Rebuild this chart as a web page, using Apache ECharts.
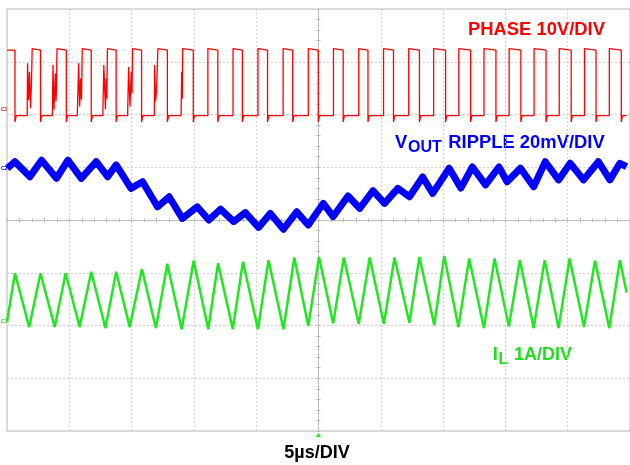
<!DOCTYPE html>
<html>
<head>
<meta charset="utf-8">
<script src="https://cdn.jsdelivr.net/npm/echarts@6/dist/echarts.min.js"></script>
<style>
  html, body { margin: 0; padding: 0; background: #fff; }
  #main { width: 630px; height: 465px; }
</style>
</head>
<body>
<div id="main"></div>
<script>
// scope screen: 10 div x 5us horizontally (t=0 at center), 8 div vertically (0 at center)
var chart = echarts.init(document.getElementById('main'));

// PHASE channel, 10V/div, ground at +2 div
var phaseFall = [-24.36, -22.31, -20.24, -18.24, -16.24, -14.20, -12.13, -10.05, -8.08, -6.11, -4.09, -2.07, -0.02,
                 1.98, 3.97, 6.02, 8.10, 10.20, 12.21, 14.24, 16.24, 18.26, 20.28, 22.27, 24.30];
var phaseRise = [-22.98, -20.99, -18.96, -16.94, -14.92, -12.89, -10.90, -8.88, -6.86, -4.86, -2.84, -0.82,
                 1.20, 3.23, 5.22, 7.24, 9.24, 11.26, 13.28, 15.30, 17.30, 19.32, 21.35, 23.34];
var phaseHigh = 12.2, phaseOver = 12.5, phaseLow = -0.2, phaseUnder = -1.4;
// ringing before the first rising edges: [time before edge (us), volts]
var phaseRing = [
    [[-0.40, -0.2], [-0.37, 9.7], [-0.29, 2.7], [-0.21, 8.1], [-0.13, 1.2], [-0.05, 6.5]],
    [[-0.37, -0.2], [-0.32, 9.4], [-0.24, 0.9], [-0.13, 7.8], [-0.08, 2.5], [-0.03, 6.0]],
    [[-0.40, -0.2], [-0.29, 9.7], [-0.21, 1.5], [-0.13, 6.8], [-0.06, 2.8]],
    [[-0.37, -0.2], [-0.29, 9.4], [-0.16, 1.0], [-0.10, 6.8], [-0.05, 3.0]],
    [[-0.40, -0.2], [-0.32, 9.0], [-0.21, 1.5], [-0.11, 8.1], [-0.05, 4.0]],
    [[-0.29, -0.2], [-0.26, 9.4], [-0.18, 2.5], [-0.10, 5.0]],
    [[-0.13, -0.2], [-0.08, 8.1], [-0.03, 3.0]]
];

// VOUT ripple, 20mV/div, reference at +1 div  [us, mV]
var vout = [[-24.98, -0.4], [-24.36, 2.1], [-23.16, -3.6], [-22.23, 2.7], [-21.03, -4.2], [-20.11, 2.7],
            [-19.04, -4.2], [-17.84, 2.1], [-16.92, -3.6], [-16.24, 0.9], [-15.05, -8.0], [-14.12, -5.5],
            [-12.92, -15.0], [-11.99, -11.2], [-10.93, -19.4], [-9.73, -15.0], [-8.80, -20.0], [-7.87, -15.9],
            [-6.80, -20.6], [-5.87, -17.2], [-4.81, -22.8], [-3.87, -17.5], [-2.81, -23.5], [-1.75, -16.9],
            [-0.82, -21.9], [0.38, -13.7], [1.18, -18.7], [2.37, -10.9], [3.31, -15.6], [4.37, -8.9],
            [5.30, -13.7], [6.37, -8.0], [7.30, -11.2], [8.36, -3.7], [9.16, -9.9], [10.49, -0.4],
            [11.42, -7.9], [12.35, 0.1], [13.41, -6.7], [14.48, 0.1], [15.14, -5.5], [16.21, -0.4],
            [17.27, -7.4], [18.20, 2.1], [19.27, -4.8], [20.20, 1.5], [21.27, -4.8], [22.46, 2.1],
            [23.39, -4.8], [24.19, 1.5], [24.73, 0.2]];

// inductor current, 1A/div, zero at -2 div  [us, A]
var il = [[-25.0, 0.07], [-24.36, 0.99], [-23.22, -0.03], [-22.31, 0.99], [-21.17, -0.03], [-20.29, 0.99],
          [-19.17, -0.03], [-18.24, 1.02], [-17.10, -0.05], [-16.24, 1.02], [-15.15, -0.03], [-14.17, 1.07],
          [-13.05, -0.05], [-12.13, 1.17], [-10.98, -0.07], [-10.02, 1.23], [-8.85, -0.07], [-8.06, 1.18],
          [-6.88, -0.07], [-6.06, 1.21], [-4.86, -0.07], [-4.01, 1.24], [-2.81, -0.07], [-1.94, 1.29],
          [-0.82, -0.01], [0.04, 1.30], [1.18, 0.04], [2.03, 1.29], [3.23, 0.03], [4.11, 1.29],
          [5.25, 0.03], [6.10, 1.29], [7.30, 0.05], [8.10, 1.30], [9.29, 0.01], [10.09, 1.32],
          [11.23, -0.03], [12.09, 1.27], [13.28, -0.05], [14.13, 1.27], [15.28, -0.02], [16.16, 1.24],
          [17.27, -0.05], [18.15, 1.24], [19.27, -0.05], [20.15, 1.27], [21.31, -0.03], [22.19, 1.23],
          [23.34, -0.05], [24.19, 1.24], [24.73, 0.62]];

// build phase trace from the edges
var phase = [[-25, phaseHigh]];
for (var i = 0; i < phaseFall.length; i++) {
    var tf = phaseFall[i];
    phase.push([tf, phaseHigh], [tf, phaseUnder], [tf + 0.1, phaseLow]);
    if (i < phaseRise.length) {
        var tr = phaseRise[i];
        var ring = phaseRing[i] || [];
        var last = phaseLow;
        for (var k = 0; k < ring.length; k++) {
            phase.push([tr + ring[k][0], ring[k][1]]);
            last = ring[k][1];
        }
        phase.push([tr, last], [tr, phaseOver], [tr + 0.1, phaseHigh]);
    }
}
phase.push([24.73, phaseLow]);

function toDiv(arr, offset, perDiv) {
    return arr.map(function (p) { return [p[0], offset + p[1] / perDiv]; });
}

var font = '"Liberation Sans", Arial, sans-serif';
var gridColor = '#d2d2d2';
var axisColor = '#bdbdbd';

function label(text, x, y, color, size, align) {
    return {
        type: 'text', x: x, y: y, silent: true,
        style: { text: text, fill: color, font: 'bold ' + size + 'px ' + font,
                 align: align || 'left', verticalAlign: 'middle' }
    };
}

var option = {
    animation: false,
    backgroundColor: '#fff',
    grid: { left: 7, top: 9, width: 626.5, height: 422, show: true, borderColor: '#b8b8b8', borderWidth: 1 },
    xAxis: [{
        type: 'value', min: -25, max: 25, interval: 5, position: 'bottom',
        axisLine: { onZero: true, lineStyle: { color: axisColor, width: 1 } },
        axisTick: { show: true, inside: true, length: 2, lineStyle: { color: axisColor } },
        minorTick: { show: true, splitNumber: 5, length: 2, lineStyle: { color: axisColor } },
        axisLabel: { show: false },
        splitLine: { show: true, lineStyle: { color: gridColor, type: [2, 2] } }
    }, {
        type: 'value', min: -25, max: 25, interval: 5, position: 'top',
        axisLine: { onZero: true, lineStyle: { color: axisColor, width: 1 } },
        axisTick: { show: true, inside: true, length: 2, lineStyle: { color: axisColor } },
        minorTick: { show: true, splitNumber: 5, length: 2, lineStyle: { color: axisColor } },
        axisLabel: { show: false },
        splitLine: { show: false }
    }],
    yAxis: [{
        type: 'value', min: -4, max: 4, interval: 1, position: 'left',
        axisLine: { onZero: true, lineStyle: { color: axisColor, width: 1 } },
        axisTick: { show: true, inside: true, length: 2, lineStyle: { color: axisColor } },
        minorTick: { show: true, splitNumber: 5, length: 2, lineStyle: { color: axisColor } },
        axisLabel: { show: false },
        splitLine: { show: true, lineStyle: { color: gridColor, type: [2, 2] } }
    }, {
        type: 'value', min: -4, max: 4, interval: 1, position: 'right',
        axisLine: { onZero: true, lineStyle: { color: axisColor, width: 1 } },
        axisTick: { show: true, inside: true, length: 2, lineStyle: { color: axisColor } },
        minorTick: { show: true, splitNumber: 5, length: 2, lineStyle: { color: axisColor } },
        axisLabel: { show: false },
        splitLine: { show: false }
    }],
    series: [{
        name: 'PHASE', type: 'line', showSymbol: false, data: toDiv(phase, 2, 10),
        lineStyle: { color: '#ff0000', width: 1.3 }
    }, {
        name: 'VOUT', type: 'line', showSymbol: false, data: toDiv(vout, 1, 20),
        lineStyle: { color: '#0000ff', width: 7, join: 'round' }
    }, {
        name: 'IL', type: 'line', showSymbol: false, data: toDiv(il, -2, 1),
        lineStyle: { color: '#22e622', width: 2.5 },
        markPoint: {
            silent: true, symbol: 'triangle', symbolSize: [5, 4], symbolOffset: [0, 4],
            itemStyle: { color: '#22e622' }, label: { show: false },
            data: [{ coord: [0, -4] }]
        }
    }],
    graphic: [
        label('PHASE 10V/DIV', 468, 29.5, '#ff0000', 18.4),
        label('V', 395, 143, '#0000ff', 18.4),
        label('OUT', 408, 148, '#0000ff', 16),
        label('RIPPLE 20mV/DIV', 448.3, 143, '#0000ff', 18.4),
        label('I', 492.7, 355, '#22dd22', 18.4),
        label('L', 498.5, 360, '#22dd22', 16),
        label('1A/DIV', 514, 355, '#22dd22', 18),
        label('5µs/DIV', 317, 453, '#000000', 18, 'center'),
        label('C1', 1, 110, '#ff0000', 5),
        label('C2', 1, 169, '#0000ff', 5),
        label('C3', 1, 322, '#22dd22', 5)
    ]
};
chart.setOption(option);
</script>
</body>
</html>
